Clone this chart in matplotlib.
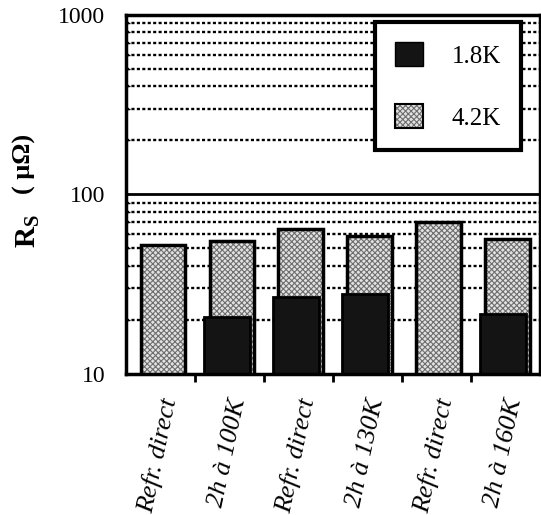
import numpy as np
import matplotlib
matplotlib.use("Agg")
import matplotlib.pyplot as plt
from matplotlib.patches import Patch
from matplotlib.legend_handler import HandlerTuple
from matplotlib.ticker import LogLocator, NullFormatter, FixedLocator
import matplotlib.transforms as mtransforms

# ---- data ----
categories = ["Refr. direct", "2h à 100K", "Refr. direct", "2h à 130K", "Refr. direct", "2h à 160K"]
rs_4_2K = [52, 55, 64, 59, 70, 56.5]
rs_1_8K = [np.nan, 20.7, 26.8, 28, np.nan, 21.5]
series_labels = ["1.8K", "4.2K"]
y_ticks = [10, 100, 1000]

plt.rcParams['font.family'] = ['Liberation Serif', 'DejaVu Serif']
plt.rcParams['mathtext.fontset'] = 'custom'
plt.rcParams['mathtext.rm'] = 'Liberation Serif:bold'
plt.rcParams['mathtext.bf'] = 'Liberation Serif:bold'
plt.rcParams['hatch.linewidth'] = 0.8

W, H = 541, 515
fig = plt.figure(figsize=(W / 100, H / 100), dpi=100)
ax = fig.add_axes([0.233, 0.274, 0.765, 0.697])
ax.set_yscale('log')
ax.set_ylim(10, 1000)
ax.set_xlim(0, len(categories))

x = np.arange(len(categories))
light_fc = '#e2e2e2'
hatch_c = '#6e6e6e'
dark_fc = '#141414'
hatch_pat = 'xxxxxx'

# grid
ax.yaxis.set_minor_locator(LogLocator(base=10, subs=np.arange(2, 10)))
ax.yaxis.set_minor_formatter(NullFormatter())
ax.grid(which='minor', axis='y', linestyle=(0, (1.3, 1.0)), color='black', linewidth=1.7, zorder=0)
ax.grid(which='major', axis='y', linestyle='-', color='black', linewidth=2.0, zorder=0)

# 4.2K bars (behind)
ax.bar(x + 0.53, rs_4_2K, width=0.64, color=light_fc, hatch=hatch_pat, edgecolor=hatch_c, linewidth=0, zorder=2)
ax.bar(x + 0.53, rs_4_2K, width=0.64, fill=False, edgecolor='black', linewidth=2.5, zorder=2.1)
# 1.8K bars (front)
ax.bar(x + 0.46, rs_1_8K, width=0.67, color=dark_fc, edgecolor='black', linewidth=2, zorder=3)

# axes styling
for s in ax.spines.values():
    s.set_linewidth(2.5)
    s.set_zorder(5)
ax.set_yticks(y_ticks)
ax.set_yticklabels([str(v) for v in y_ticks], fontsize=17)
ax.tick_params(axis='y', which='major', length=0, pad=15)
ax.tick_params(axis='y', which='minor', length=3, direction='in', width=1)

ax.xaxis.set_major_locator(FixedLocator(np.arange(1, len(categories))))
ax.xaxis.set_major_formatter(NullFormatter())
ax.tick_params(axis='x', which='major', direction='out', length=6, width=2, bottom=True, top=False)
ax.set_xticks(x + 0.5, minor=True)
ax.tick_params(axis='x', which='minor', length=0)
ax.set_xticklabels(categories, minor=True, rotation=78, fontsize=19, style='italic',
                   ha='right', va='center', rotation_mode='anchor')
offset = mtransforms.ScaledTranslation(10 / 100, -20 / 100, fig.dpi_scale_trans)
for lbl in ax.xaxis.get_minorticklabels():
    lbl.set_transform(lbl.get_transform() + offset)

# y-axis label: large R_S plus smaller unit
fig.text(28.5 / W, 1 - 231.5 / H, r'$\mathregular{R_S}$', fontsize=21, fontweight='bold',
         rotation=90, ha='center', va='center')
fig.text(24 / W, 1 - 164 / H, '( μΩ)', fontsize=19, fontweight='bold',
         rotation=90, ha='center', va='center')

# legend
h18 = Patch(facecolor=dark_fc, edgecolor='black', linewidth=1)
h42 = (Patch(facecolor=light_fc, hatch=hatch_pat, edgecolor=hatch_c, linewidth=0),
       Patch(fill=False, edgecolor='black', linewidth=1.5))
leg = ax.legend([h18, h42], series_labels, loc='upper right', bbox_to_anchor=(0.954, 0.98),
                fontsize=18, frameon=True, fancybox=False, framealpha=1, edgecolor='black',
                handlelength=1.12, handleheight=1.12, handletextpad=1.15, labelspacing=1.45,
                borderpad=0.8, borderaxespad=0,
                handler_map={tuple: HandlerTuple(ndivide=1, pad=0)})
leg.get_frame().set_linewidth(3)
leg.set_zorder(6)

fig.savefig('out.png', dpi=100)
